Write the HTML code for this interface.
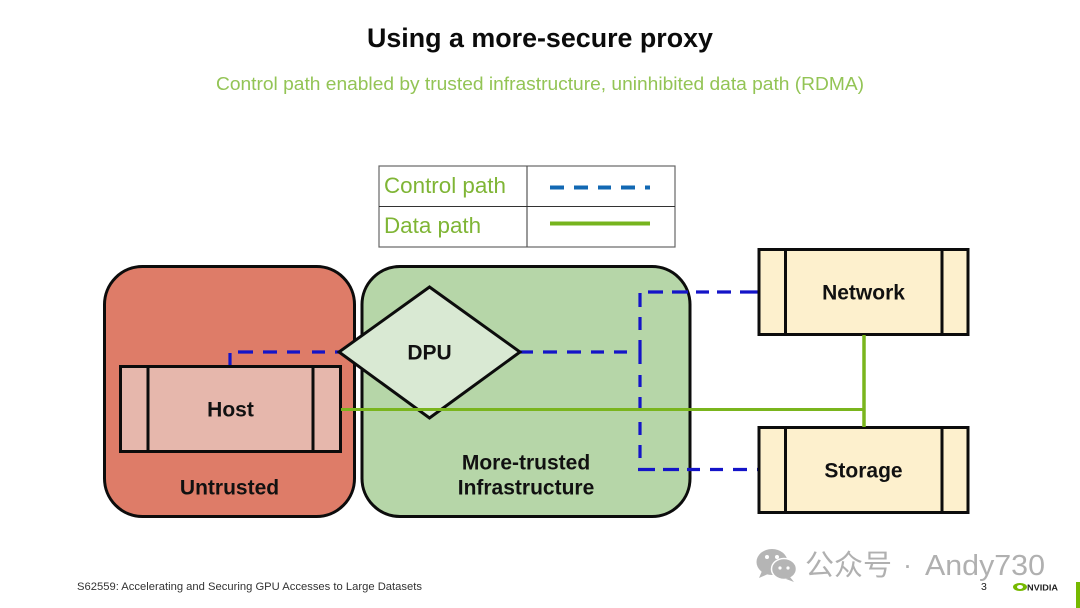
<!DOCTYPE html>
<html><head><meta charset="utf-8">
<style>
html,body{margin:0;padding:0;background:#fff}
svg{display:block;filter:blur(.35px)}
text{font-family:"Liberation Sans","Noto Sans CJK SC",sans-serif}
.b{font-weight:700;fill:#111;font-size:21px;text-anchor:middle}
</style></head>
<body>
<svg width="1080" height="608" viewBox="0 0 1080 608" xmlns="http://www.w3.org/2000/svg">
<rect width="1080" height="608" fill="#fff"/>
<text x="540" y="47" text-anchor="middle" font-size="27" font-weight="700" fill="#0b0b0b" textLength="346" lengthAdjust="spacingAndGlyphs">Using a more-secure proxy</text>
<text x="540" y="90" text-anchor="middle" font-size="18.500" fill="#93c455" textLength="648" lengthAdjust="spacingAndGlyphs">Control path enabled by trusted infrastructure, uninhibited data path (RDMA)</text>

<!-- legend -->
<rect x="379" y="166" width="296" height="81" fill="#fff" stroke="#666" stroke-width="1.2"/>
<line x1="527" y1="166" x2="527" y2="247" stroke="#555" stroke-width="1.2"/>
<line x1="379" y1="206.500" x2="675" y2="206.500" stroke="#333" stroke-width="1"/>
<text x="384" y="193" font-size="22.400" fill="#7fb535">Control path</text>
<text x="384" y="233" font-size="22.400" fill="#7fb535">Data path</text>
<path d="M550 187.500h14M574 187.500h14M598 187.500h13M621 187.500h14M645 187.500h5" fill="none" stroke="#1268b3" stroke-width="4"/>
<line x1="550" y1="223.500" x2="650" y2="223.500" stroke="#76b41e" stroke-width="4"/>

<!-- zones -->
<rect x="104.500" y="266.500" width="250" height="250" rx="38" fill="#de7c68" stroke="#0c0c0c" stroke-width="3"/>
<rect x="362" y="266.500" width="328" height="250" rx="38" fill="#b6d6a8" stroke="#0c0c0c" stroke-width="3"/>

<!-- blue connectors -->
<g fill="none" stroke="#1414c8" stroke-width="3.200">
<path d="M230 353V366M238 352h15M263 352h14M287 352h13M312 352h13M335 352h6"/>
<path d="M520 352h13M543 352h14M567 352h14M591 352h13M614 352h13"/>
<path d="M640 293v14M640 317v13M640 340v24M640 375v12M640 397v14M640 422v13M640 445v13"/>
<path d="M648 292h15M672 292h16M696 292h13M717 292h14M740 292h18"/>
<path d="M638 469.500h17M663 469.500h16M687 469.500h13M710 469.500h13M733 469.500h14M757 469.500h4"/>
</g>

<!-- host -->
<rect x="120.500" y="366.500" width="220" height="85" fill="#e6b7ac" stroke="#0c0c0c" stroke-width="3"/>
<line x1="148" y1="366" x2="148" y2="452" stroke="#0c0c0c" stroke-width="3"/>
<line x1="313" y1="366" x2="313" y2="452" stroke="#0c0c0c" stroke-width="3"/>

<!-- DPU -->
<polygon points="429.500,287 520,352 429.500,418 339,352" fill="#d9e9d3" stroke="#0c0c0c" stroke-width="3" stroke-linejoin="miter"/>

<!-- network/storage -->
<rect x="759" y="249.500" width="209" height="85" fill="#fdf0cd" stroke="#0c0c0c" stroke-width="3"/>
<line x1="785.500" y1="249" x2="785.500" y2="335" stroke="#0c0c0c" stroke-width="3"/>
<line x1="942" y1="249" x2="942" y2="335" stroke="#0c0c0c" stroke-width="3"/>
<rect x="759" y="427.500" width="209" height="85" fill="#fdf0cd" stroke="#0c0c0c" stroke-width="3"/>
<line x1="785.500" y1="427" x2="785.500" y2="513" stroke="#0c0c0c" stroke-width="3"/>
<line x1="942" y1="427" x2="942" y2="513" stroke="#0c0c0c" stroke-width="3"/>

<!-- green -->
<line x1="341" y1="409.500" x2="864" y2="409.500" stroke="#7ab51d" stroke-width="3"/>
<line x1="864" y1="335" x2="864" y2="427" stroke="#7ab51d" stroke-width="3.500"/>

<!-- labels -->
<text class="b" x="230.500" y="416.500">Host</text>
<text class="b" x="429.500" y="359.500">DPU</text>
<text class="b" x="229.500" y="494.500">Untrusted</text>
<text class="b" x="526" y="469.500">More-trusted</text>
<text class="b" x="526" y="494.500">Infrastructure</text>
<text class="b" x="863.500" y="299.500">Network</text>
<text class="b" x="863.500" y="477.500">Storage</text>

<!-- footer -->
<text x="77" y="590" font-size="11" fill="#333" textLength="345" lengthAdjust="spacingAndGlyphs">S62559: Accelerating and Securing GPU Accesses to Large Datasets</text>
<text x="981" y="590" font-size="10.500" fill="#222">3</text>
<ellipse cx="1020" cy="587" rx="7" ry="4" fill="#76b900"/>
<ellipse cx="1020" cy="587" rx="3" ry="2" fill="#fff"/>
<text x="1027" y="590.500" font-size="8" font-weight="700" fill="#222" textLength="31" lengthAdjust="spacingAndGlyphs">NVIDIA</text>
<rect x="1076" y="582" width="4" height="26" fill="#76b900"/>

<!-- watermark -->
<ellipse cx="772" cy="562" rx="15.500" ry="13" fill="#b5b5b5"/>
<path d="M762 571l-3 7 9-4z" fill="#b5b5b5"/>
<ellipse cx="784" cy="569" rx="12.500" ry="10.500" fill="#b5b5b5" stroke="#fff" stroke-width="1.500"/>
<path d="M790 577l4 5-8-3z" fill="#b5b5b5"/>
<circle cx="767" cy="557" r="2" fill="#fff"/><circle cx="777" cy="557" r="2" fill="#fff"/>
<circle cx="780" cy="568" r="1.600" fill="#fff"/><circle cx="788" cy="568" r="1.600" fill="#fff"/>
<text x="805" y="575" font-size="29" fill="#b0b0b0" textLength="87" lengthAdjust="spacingAndGlyphs">公众号</text>
<text x="903" y="574" font-size="27" fill="#b0b0b0">·</text>
<text x="925" y="575" font-size="29" fill="#b0b0b0" textLength="120" lengthAdjust="spacingAndGlyphs">Andy730</text>
</svg>
</body></html>
